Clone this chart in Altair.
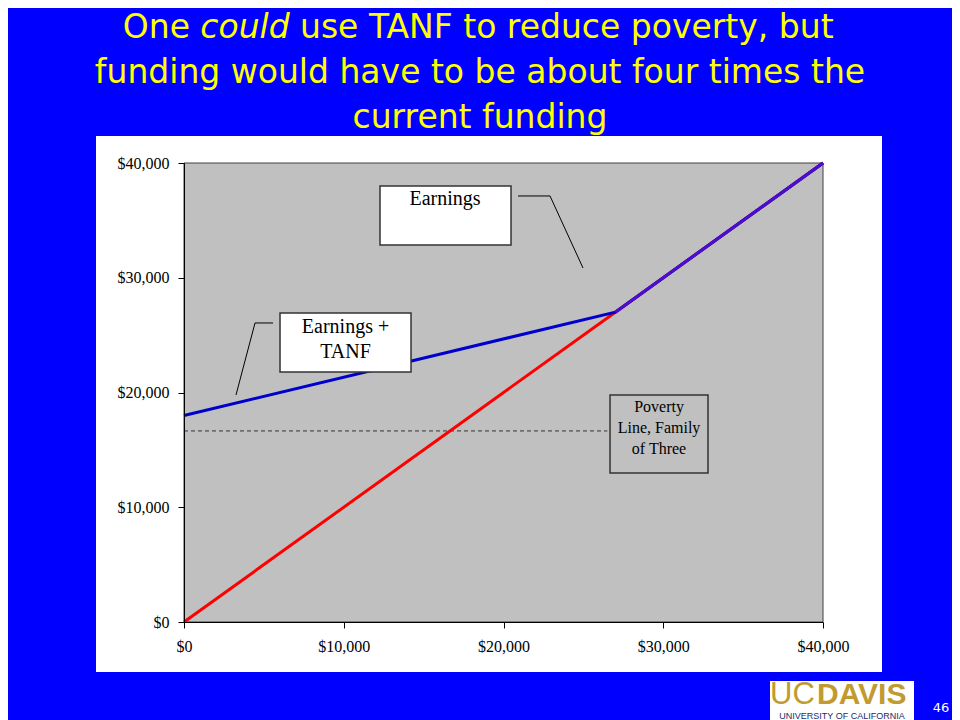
import altair as alt
import pandas as pd

# ---------------- data ----------------
earn_x = [0, 27000, 40000]
earn_y = [0, 27000, 40000]
tanf_x = [0, 27000, 40000]
tanf_y = [18000, 27000, 40000]
poverty_level = 16650
poverty_x = [0, 26500]
tick_values = [0, 10000, 20000, 30000, 40000]

title_line1 = ["One", "could", "use TANF to reduce poverty, but"]
title_line2 = "funding would have to be about four times the"
title_line3 = "current funding"

# annotation boxes (data units): x, x2, y, y2, filled
box_x = [12270, 6010, 26668]
box_x2 = [20470, 14210, 32802]
box_y = [32855, 21788, 12985]
box_y2 = [37997, 26929, 19783]
box_fill = ["white", "white", "none"]

# annotation texts
earn_label = ["Earnings"]
earn_label_pos = [(16339, 36865)]
tanf_label = ["Earnings +", "TANF"]
tanf_label_pos = [(10110, 25709), (10110, 23531)]
pov_label = ["Poverty", "Line, Family", "of Three"]
pov_label_pos = [(29735, 18737), (29735, 16907), (29735, 15077)]

# callout leader lines
callout_group = ["e", "e", "e", "t", "t", "t"]
callout_order = [0, 1, 2, 0, 1, 2]
callout_x = [20908, 22912, 24977, 5571, 4445, 3255]
callout_y = [37126, 37126, 30851, 26058, 26058, 19783]

page_no = "46"

# ---------------- frames ----------------
W, H = 639, 459
xscale = alt.Scale(domain=[0, 40000], nice=False, zero=True)
yscale = alt.Scale(domain=[0, 40000], nice=False, zero=True)

one = pd.DataFrame({"k": [0]})
earn_df = pd.DataFrame({"x": earn_x, "y": earn_y})
tanf_df = pd.DataFrame({"x": tanf_x, "y": tanf_y})
overlap_df = pd.DataFrame(
    [{"x": a, "y": b} for a, b, c in zip(tanf_x, tanf_y, earn_y) if b == c]
)
pov_df = pd.DataFrame({"x": poverty_x, "y": [poverty_level] * len(poverty_x)})
box_df = pd.DataFrame({"x": box_x, "x2": box_x2, "y": box_y, "y2": box_y2, "fill": box_fill})
call_df = pd.DataFrame({"g": callout_group, "i": callout_order, "x": callout_x, "y": callout_y})
plot_df = pd.DataFrame({"x": [0], "x2": [40000], "y": [0], "y2": [40000]})

axis_common = dict(
    values=tick_values,
    format="$,.0f",
    labelFont="Liberation Serif",
    labelFontSize=16,
    labelColor="black",
    tickColor="black",
    domainColor="black",
    tickSize=6,
    grid=False,
    title=None,
    labelFlush=False,
    zindex=1,
)
x_axis = alt.Axis(labelPadding=10, **axis_common)
y_axis = alt.Axis(labelPadding=9, **axis_common)

X = lambda f="x": alt.X(f + ":Q", scale=xscale, axis=x_axis)
Y = lambda f="y": alt.Y(f + ":Q", scale=yscale, axis=y_axis)

layers = []

# white chart panel (decoration)
layers.append(
    alt.Chart(one).mark_rect(color="white").encode(
        x=alt.value(-88), x2=alt.value(698), y=alt.value(-27), y2=alt.value(509)
    )
)
# gray plot area
layers.append(
    alt.Chart(plot_df).mark_rect(fill="#C0C0C0", stroke="#404040", strokeWidth=1).encode(
        x=X(), x2="x2:Q", y=Y(), y2="y2:Q"
    )
)
# poverty dashed line
layers.append(
    alt.Chart(pov_df).mark_line(color="#333333", strokeWidth=1, strokeDash=[4, 3]).encode(x=X(), y=Y())
)
# earnings (red)
layers.append(alt.Chart(earn_df).mark_line(color="#FF0000", strokeWidth=3).encode(x=X(), y=Y()))
# earnings + TANF (blue)
layers.append(alt.Chart(tanf_df).mark_line(color="#0000CC", strokeWidth=3).encode(x=X(), y=Y()))
# overlap (purple)
layers.append(alt.Chart(overlap_df).mark_line(color="#4B0ECF", strokeWidth=3).encode(x=X(), y=Y()))
# boxes
layers.append(
    alt.Chart(box_df).mark_rect(stroke="#333333", strokeWidth=1.5).encode(
        x=X(), x2="x2:Q", y=Y(), y2="y2:Q",
        fill=alt.Fill("fill:N", scale=None),
    )
)
# callouts
layers.append(
    alt.Chart(call_df).mark_line(color="black", strokeWidth=1).encode(
        x=X(), y=Y(), detail="g:N", order="i:Q"
    )
)


def data_texts(texts, pos, size):
    df = pd.DataFrame({"t": texts, "x": [p[0] for p in pos], "y": [p[1] for p in pos]})
    return alt.Chart(df).mark_text(
        font="Liberation Serif", fontSize=size, color="black", baseline="middle", align="center"
    ).encode(x=X(), y=Y(), text="t:N")


layers.append(data_texts(earn_label, earn_label_pos, 20))
layers.append(data_texts(tanf_label, tanf_label_pos, 20))
layers.append(data_texts(pov_label, pov_label_pos, 16))


def ptext(text, vx, vy, **kw):
    return alt.Chart(one).mark_text(text=text, **kw).encode(x=alt.value(vx), y=alt.value(vy))


title_font = dict(font="DejaVu Sans", fontSize=33, baseline="alphabetic", color="#FFFF00")
title_pieces = [
    (title_line1[0], 6, -125, "right", "normal"),
    (title_line1[1], 61, -125, "center", "italic"),
    (title_line1[2], 116, -125, "left", "normal"),
    (title_line2, 296, -80, "center", "normal"),
    (title_line3, 296, -35, "center", "normal"),
]
for t, vx, vy, al, st in title_pieces:
    layers.append(ptext(t, vx, vy, align=al, fontStyle=st, **title_font))

# logo (decoration)
layers.append(
    alt.Chart(one).mark_rect(color="white").encode(
        x=alt.value(586), x2=alt.value(730), y=alt.value(518), y2=alt.value(560)
    )
)
layers.append(ptext("UC", 586, 541, align="left", font="Liberation Sans", fontSize=31,
                    color="#BF9B30", baseline="alphabetic"))
layers.append(ptext("DAVIS", 633, 541, align="left", font="Liberation Sans", fontSize=30,
                    fontWeight="bold", color="#BF9B30", baseline="alphabetic"))
layers.append(ptext("UNIVERSITY OF CALIFORNIA", 658, 556, align="center", font="Liberation Sans",
                    fontSize=9, color="#1A2A6C", baseline="alphabetic"))
layers.append(ptext(page_no, 757, 549, align="center", font="DejaVu Sans", fontSize=13,
                    color="white", baseline="alphabetic"))

chart = alt.layer(*layers).properties(
    width=W,
    height=H,
    padding={"left": 176, "top": 155, "right": 129, "bottom": 98},
    autosize=alt.AutoSizeParams(type="none"),
    background="#0000FF",
).configure_view(stroke="transparent")

chart.save("out.html", embed_options={"renderer": "svg", "actions": False})
